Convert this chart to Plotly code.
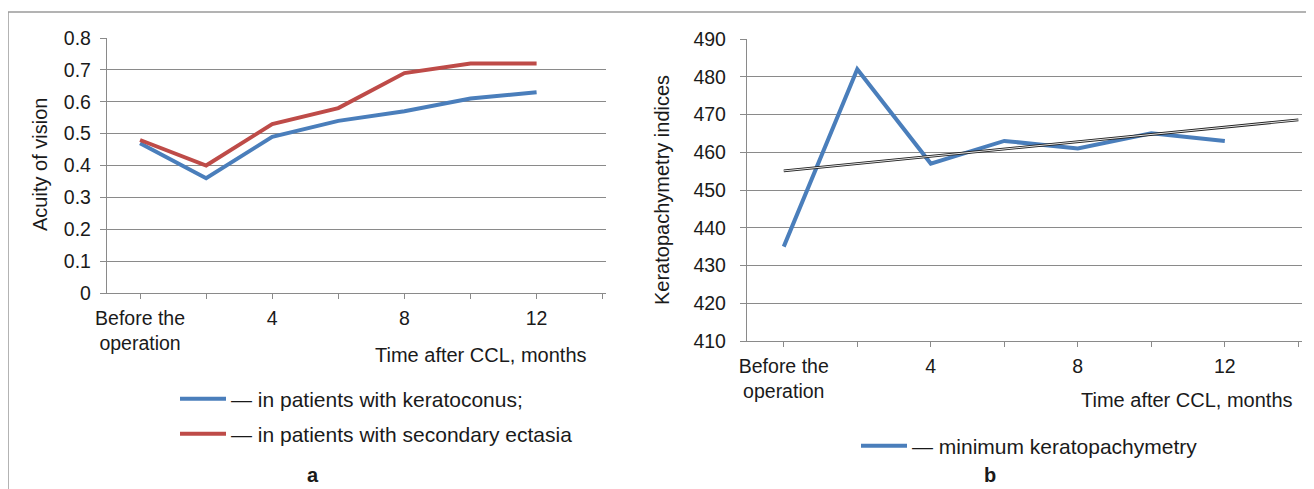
import numpy as np
import plotly.graph_objects as go

# ---- data ----
x_idx = [0, 1, 2, 3, 4, 5, 6]
tick_positions = [0, 1, 2, 3, 4, 5, 6, 7]
tick_labels = ["Before the<br>operation", "", "4", "", "8", "", "12", ""]

acuity_keratoconus = [0.47, 0.36, 0.49, 0.54, 0.57, 0.61, 0.63]
acuity_ectasia = [0.48, 0.40, 0.53, 0.58, 0.69, 0.72, 0.72]
acuity_ticks = [0, 0.1, 0.2, 0.3, 0.4, 0.5, 0.6, 0.7, 0.8]
acuity_ticktext = ["0", "0.1", "0.2", "0.3", "0.4", "0.5", "0.6", "0.7", "0.8"]

pachy_min = [435, 482, 457, 463, 461, 465, 463]
pachy_ticks = [410, 420, 430, 440, 450, 460, 470, 480, 490]

# linear trend of pachymetry (extended to last category slot)
slope, intercept = np.polyfit(x_idx, pachy_min, 1)
trend_x = [0, 7]
trend_y = [intercept + slope * t for t in trend_x]

W, H = 1314, 489
OX, OY = 8, 8  # page body offset compensation
FONT = "Arial, Liberation Sans, sans-serif"
TXT = "#1a1a1a"
GRID = "#8a8a8a"
BLUE = "#4A7EBB"
RED = "#BE4B48"


def px(v):
    return (v - OX) / W


def py(v):
    return 1 - (v - OY) / H


fig = go.Figure()

fig.add_trace(go.Scatter(x=x_idx, y=acuity_keratoconus, mode="lines",
                         line=dict(color=BLUE, width=4),
                         name="— in patients with keratoconus;",
                         xaxis="x", yaxis="y", legend="legend"))
fig.add_trace(go.Scatter(x=x_idx, y=acuity_ectasia, mode="lines",
                         line=dict(color=RED, width=4),
                         name="— in patients with secondary ectasia",
                         xaxis="x", yaxis="y", legend="legend2"))
fig.add_trace(go.Scatter(x=x_idx, y=pachy_min, mode="lines",
                         line=dict(color=BLUE, width=4),
                         name="— minimum keratopachymetry",
                         xaxis="x2", yaxis="y2", legend="legend3"))
fig.add_trace(go.Scatter(x=trend_x, y=trend_y, mode="lines",
                         line=dict(color="#222222", width=2.8),
                         showlegend=False, hoverinfo="skip",
                         xaxis="x2", yaxis="y2"))
fig.add_trace(go.Scatter(x=trend_x, y=trend_y, mode="lines",
                         line=dict(color="#ffffff", width=0.9),
                         showlegend=False, hoverinfo="skip",
                         xaxis="x2", yaxis="y2"))

tick_font = dict(family=FONT, size=19.5, color=TXT)
text_font = dict(family=FONT, size=20, color=TXT)
legend_font = dict(family=FONT, size=21, color=TXT)

xcommon = dict(range=[-0.5, 7.05], tickmode="array", tickvals=tick_positions,
               ticktext=tick_labels, showgrid=False, zeroline=False,
               showline=True, linecolor=GRID, linewidth=1.3,
               ticks="outside", ticklen=5, tickcolor=GRID, tickwidth=1,
               ticklabelstandoff=2, tickfont=tick_font, fixedrange=True)

ycommon = dict(showgrid=True, gridcolor=GRID, gridwidth=1, zeroline=False,
               showline=True, linecolor=GRID, linewidth=1.3,
               ticks="outside", ticklen=6, tickcolor=GRID,
               tickfont=tick_font, fixedrange=True)

legend_common = dict(xanchor="left", yanchor="middle", bgcolor="rgba(0,0,0,0)",
                     font=legend_font, itemwidth=46)

fig.update_layout(
    width=W, height=H,
    margin=dict(l=0, r=0, t=0, b=0, autoexpand=False),
    paper_bgcolor="white", plot_bgcolor="white",
    font=text_font,
    xaxis=dict(domain=[px(107), px(606)], anchor="y", **xcommon),
    yaxis=dict(domain=[py(293), py(38)], anchor="x", range=[0, 0.8],
               tickmode="array", tickvals=acuity_ticks, ticktext=acuity_ticktext,
               ticklabelstandoff=5, **ycommon),
    xaxis2=dict(domain=[px(747), px(1302)], anchor="y2", **xcommon),
    yaxis2=dict(domain=[py(341), py(39)], anchor="x2", range=[410, 490],
                tickmode="array", tickvals=pachy_ticks,
                ticklabelstandoff=10, **ycommon),
    legend=dict(x=px(175), y=py(399), **legend_common),
    legend2=dict(x=px(175), y=py(434), **legend_common),
    legend3=dict(x=px(856), y=py(446), **legend_common),
    showlegend=True,
)

annotations = [
    dict(text="Time after CCL, months", x=px(481), y=py(355)),
    dict(text="Time after CCL, months", x=px(1187), y=py(400)),
    dict(text="Acuity of vision", x=px(40), y=py(165), textangle=-90),
    dict(text="Keratopachymetry indices", x=px(662), y=py(190), textangle=-90),
    dict(text="<b>a</b>", x=px(313), y=py(475)),
    dict(text="<b>b</b>", x=px(990), y=py(475)),
]
for a in annotations:
    fig.add_annotation(xref="paper", yref="paper", showarrow=False,
                       xanchor="center", yanchor="middle",
                       font=text_font, **a)

# outer frame (top and left edges)
fig.add_shape(type="line", xref="paper", yref="paper",
              x0=px(8), x1=px(1330), y0=py(12), y1=py(12),
              line=dict(color="#9a9a9a", width=1.5))
fig.add_shape(type="line", xref="paper", yref="paper",
              x0=px(8), x1=px(8), y0=py(12), y1=py(500),
              line=dict(color="#9a9a9a", width=1.5))

fig.write_html("out.html")
